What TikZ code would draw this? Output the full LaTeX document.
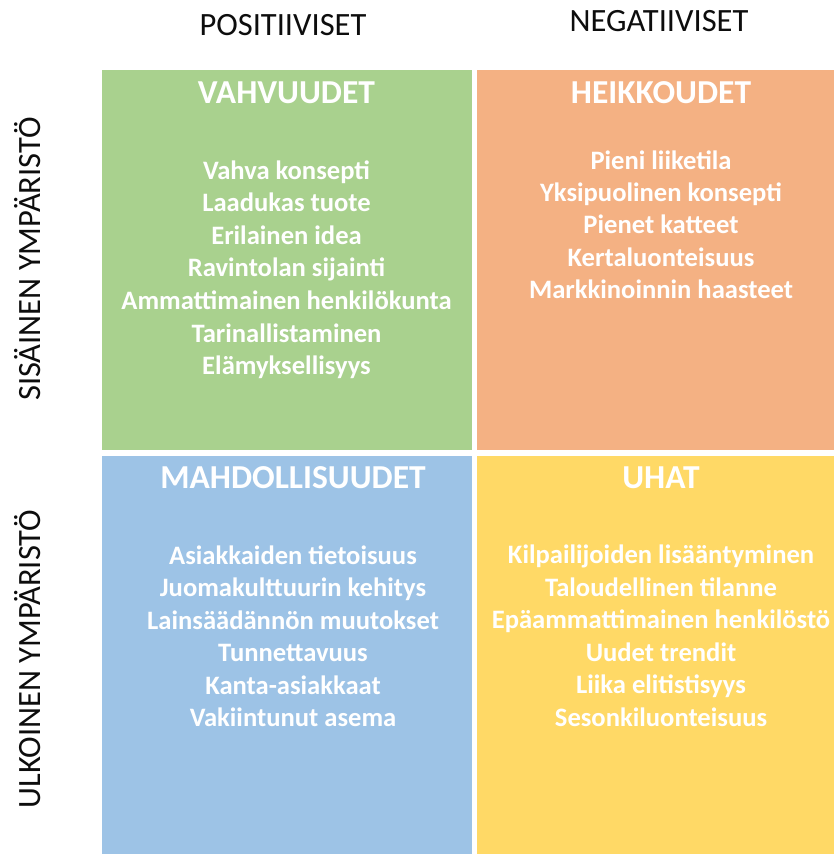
\documentclass[tikz,border=0pt]{standalone}
\usepackage{fontspec}
\setmainfont{Carlito}
\definecolor{swotgreen}{HTML}{A9D18E}
\definecolor{swotorange}{HTML}{F4B183}
\definecolor{swotblue}{HTML}{9DC3E6}
\definecolor{swotyellow}{HTML}{FFD966}
\definecolor{axistext}{HTML}{0D0D0D}
\tikzset{
  head/.style={anchor=base, inner sep=0pt, text=white, font=\bfseries\fontsize{33.5}{40}\selectfont},
  item/.style={anchor=base, inner sep=0pt, text=white, font=\bfseries\fontsize{26.6}{32}\selectfont},
  axislabel/.style={anchor=base, inner sep=0pt, text=axistext, font=\fontsize{32.5}{38}\selectfont}
}
\begin{document}
\begin{tikzpicture}[x=1pt,y=-1pt]
  \useasboundingbox (0,0) rectangle (834,854);
  % the four fields
  \fill[swotgreen]  (102,70)    rectangle (471.5,450);
  \fill[swotorange] (476.5,70)  rectangle (834,450);
  \fill[swotblue]   (102,455.5) rectangle (471.5,854);
  \fill[swotyellow] (476.5,455.5) rectangle (834,854);

  % column and row titles
  \node[axislabel] (pos) at (283,35) {POSITIIVISET};
  \node[axislabel] (neg) at (659,31) {NEGATIIVISET};
  \node[axislabel, rotate=90] (inner) at (40,259) {SISÄINEN YMPÄRISTÖ};
  \node[axislabel, rotate=90] (outer) at (40,659) {ULKOINEN YMPÄRISTÖ};

  % headings
  \node[head] (vahv) at (286.5,103) {VAHVUUDET};
  \node[head] (heik) at (661,103) {HEIKKOUDET};
  \node[head] (mahd) at (293,488) {MAHDOLLISUUDET};
  \node[head] (uhat) at (661,488) {UHAT};

  % lists, 32.5 apart
  \foreach \txt [count=\i] in {Vahva konsepti, Laadukas tuote, Erilainen idea,
      Ravintolan sijainti, Ammattimainen henkilökunta, Tarinallistaminen, Elämyksellisyys}
    \node[item] (s\i) at (286.5,179+32.6*\i-32.6) {\txt};
  \foreach \txt [count=\i] in {Pieni liiketila, Yksipuolinen konsepti, Pienet katteet,
      Kertaluonteisuus, Markkinoinnin haasteet}
    \node[item] (w\i) at (661,169.3+32.3*\i-32.3) {\txt};
  \foreach \txt [count=\i] in {Asiakkaiden tietoisuus, Juomakulttuurin kehitys,
      Lainsäädännön muutokset, Tunnettavuus, Kanta-asiakkaat, Vakiintunut asema}
    \node[item] (o\i) at (293,564+32.5*\i-32.5) {\txt};
  \foreach \txt [count=\i] in {Kilpailijoiden lisääntyminen, Taloudellinen tilanne,
      Epäammattimainen henkilöstö, Uudet trendit, Liika elitistisyys, Sesonkiluonteisuus}
    \node[item] (t\i) at (661,563.5+32.6*\i-32.6) {\txt};
\end{tikzpicture}
\end{document}
